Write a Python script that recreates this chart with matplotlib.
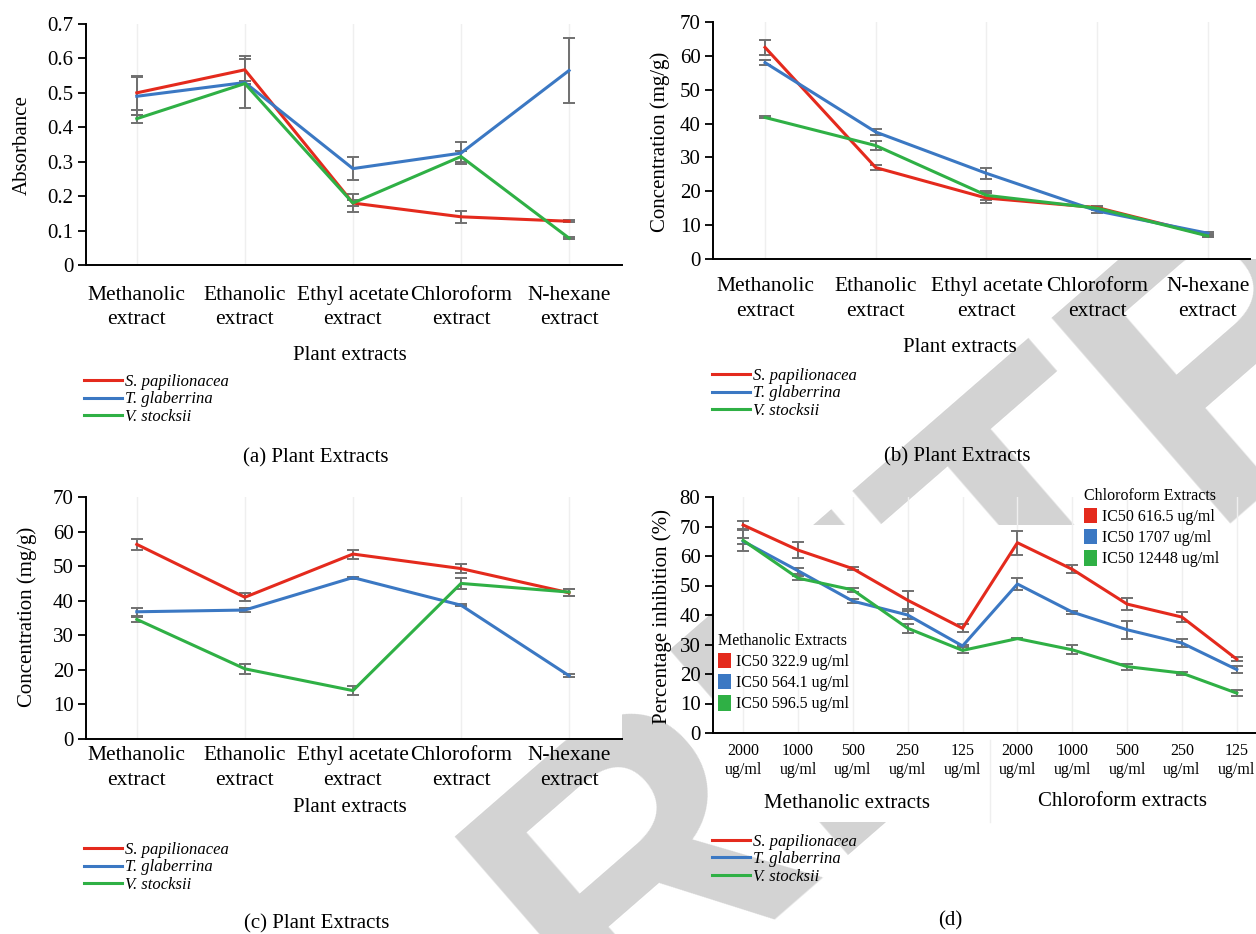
import numpy as np
import matplotlib.pyplot as plt
from matplotlib.lines import Line2D
from matplotlib.patches import Patch, Rectangle

plt.rcParams['font.family'] = ['Liberation Serif', 'DejaVu Serif']

W, H = 1256, 934

extracts = ["Methanolic\nextract", "Ethanolic\nextract", "Ethyl acetate\nextract",
            "Chloroform\nextract", "N-hexane\nextract"]
species = ["S. papilionacea", "T. glaberrina", "V. stocksii"]
colors = ["#e42a1d", "#3b78c3", "#2fb045"]

# (a) absorbance
abs_mean = [[0.500, 0.567, 0.180, 0.140, 0.127],
            [0.490, 0.530, 0.280, 0.325, 0.565],
            [0.425, 0.527, 0.180, 0.315, 0.078]]
abs_err = [[0.050, 0.040, 0.025, 0.018, 0.003],
           [0.055, 0.005, 0.033, 0.033, 0.095],
           [0.012, 0.070, 0.010, 0.015, 0.003]]

# (b) concentration
b_mean = [[62.5, 27.0, 18.0, 15.2, 7.0],
          [58.0, 37.5, 25.3, 14.2, 7.6],
          [41.8, 33.5, 18.8, 15.0, 6.8]]
b_err = [[2.2, 0.8, 1.5, 0.5, 0.5],
         [0.8, 0.9, 1.6, 0.5, 0.4],
         [0.3, 1.3, 1.3, 0.5, 0.4]]

# (c) concentration
c_mean = [[56.3, 41.0, 53.5, 49.3, 42.3],
          [36.8, 37.3, 46.7, 38.7, 18.3],
          [34.6, 20.3, 14.0, 45.0, 42.5]]
c_err = [[1.5, 1.2, 1.3, 1.3, 1.0],
         [1.2, 0.5, 0.3, 0.3, 0.4],
         [0.8, 1.4, 1.3, 1.5, 1.0]]

# (d) percentage inhibition
doses = ["2000\nug/ml", "1000\nug/ml", "500\nug/ml", "250\nug/ml", "125\nug/ml"] * 2
d_mean = [[70.5, 62.0, 55.7, 45.0, 35.5, 64.5, 55.5, 43.7, 39.3, 25.0],
          [65.0, 55.0, 44.7, 40.0, 29.5, 50.5, 41.0, 35.0, 30.5, 21.5],
          [65.3, 52.5, 48.5, 35.5, 28.0, 32.0, 28.2, 22.5, 20.3, 13.5]]
d_err = [[1.5, 2.7, 0.5, 3.0, 1.3, 4.0, 1.3, 2.0, 1.7, 0.7],
         [1.0, 1.0, 0.7, 1.3, 0.5, 2.0, 0.5, 3.0, 1.5, 1.2],
         [3.5, 0.7, 0.7, 1.5, 1.0, 0.3, 1.5, 1.0, 0.5, 1.0]]
meth_ic50 = ["IC50 322.9 ug/ml", "IC50 564.1 ug/ml", "IC50 596.5 ug/ml"]
chlo_ic50 = ["IC50 616.5 ug/ml", "IC50 1707 ug/ml", "IC50 12448 ug/ml"]


def rect(l, t, r, b):
    return [l / W, 1 - b / H, (r - l) / W, (b - t) / H]


def fx(x):
    return x / W


def fy(y):
    return 1 - y / H


def white_box(l, t, r, b):
    fig.patches.append(Rectangle((fx(l), fy(b)), (r - l) / W, (b - t) / H,
                                 transform=fig.transFigure, facecolor="white",
                                 edgecolor="none", zorder=-1))


def panel(ax, means, errs, labels, xlim, ylim, yticks, ytl, xfs=15.5, xls=1.4, xpad=15):
    n = len(labels)
    x = np.arange(n)
    for xi in x:
        ax.axvline(xi, color="#efefef", lw=1, zorder=0)
    for m, e, c in zip(means, errs, colors):
        ax.errorbar(x, m, yerr=e, color=c, lw=2.2, ecolor="#707070",
                    elinewidth=1.4, capsize=4, capthick=1.4, zorder=3)
    ax.set_xlim(*xlim)
    ax.set_ylim(*ylim)
    ax.set_xticks(x)
    ax.set_xticklabels(labels, fontsize=xfs, linespacing=xls)
    ax.set_yticks(yticks)
    ax.set_yticklabels(ytl, fontsize=15)
    ax.tick_params(axis="x", length=0, pad=xpad)
    ax.tick_params(axis="y", length=6, width=1.3, pad=3)
    for s in ["top", "right"]:
        ax.spines[s].set_visible(False)
    for s in ["left", "bottom"]:
        ax.spines[s].set_linewidth(1.4)


def species_legend(x, y):
    handles = [Line2D([], [], color=c, lw=2.2) for c in colors]
    fig.legend(handles, species, loc="upper left", bbox_to_anchor=(fx(x), fy(y)),
               frameon=False, prop={"style": "italic", "size": 12},
               handlelength=2.3, handletextpad=0.15, labelspacing=0.08,
               borderpad=0, borderaxespad=0)


fig = plt.figure(figsize=(W / 100, H / 100), dpi=100)

# watermark, kept behind the white plot areas
fig.text(fx(540), fy(965), "RETRACTED", fontsize=285, fontweight="bold",
         family="Liberation Sans", color="#d3d3d3", rotation=41,
         rotation_mode="anchor", ha="left", va="center", zorder=-2)

# (a)
ax_a = fig.add_axes(rect(86, 24, 622, 265))
panel(ax_a, abs_mean, abs_err, extracts, (-0.47, 4.49), (0, 0.7),
      np.arange(0, 0.71, 0.1), ["0"] + ["%.1f" % v for v in np.arange(0.1, 0.71, 0.1)])
fig.text(fx(22), fy(145), "Absorbance", rotation=90, fontsize=15, ha="center", va="center")
fig.text(fx(350), fy(355), "Plant extracts", fontsize=15, ha="center", va="center")
species_legend(84, 374)
fig.text(fx(316), fy(458), "(a) Plant Extracts", fontsize=15, ha="center", va="center")

# (b)
white_box(1240, 0, 1256, 259)
ax_b = fig.add_axes(rect(713, 22, 1250, 259))
panel(ax_b, b_mean, b_err, extracts, (-0.47, 4.38), (0, 70),
      np.arange(0, 71, 10), [str(v) for v in range(0, 71, 10)], xpad=13)
fig.text(fx(660), fy(142), "Concentration (mg/g)", rotation=90, fontsize=15, ha="center", va="center")
fig.text(fx(960), fy(348), "Plant extracts", fontsize=15, ha="center", va="center")
species_legend(712, 368)
fig.text(fx(957), fy(457), "(b) Plant Extracts", fontsize=15, ha="center", va="center")

# (c)
ax_c = fig.add_axes(rect(86, 497, 622, 739))
panel(ax_c, c_mean, c_err, extracts, (-0.47, 4.49), (0, 70),
      np.arange(0, 71, 10), [str(v) for v in range(0, 71, 10)], xpad=5)
fig.text(fx(27), fy(617), "Concentration (mg/g)", rotation=90, fontsize=15, ha="center", va="center")
fig.text(fx(350), fy(807), "Plant extracts", fontsize=15, ha="center", va="center")
species_legend(84, 842)
fig.text(fx(317), fy(924), "(c) Plant Extracts", fontsize=15, ha="center", va="center")

# (d)
white_box(713, 525, 1256, 822)
ax_d = fig.add_axes(rect(713, 497, 1256, 733))
ax_d.set_facecolor("none")
panel(ax_d, d_mean, d_err, doses, (-0.55, 9.35), (0, 80),
      np.arange(0, 81, 10), [str(v) for v in range(0, 81, 10)], xfs=11.5, xls=1.25, xpad=7)
fig.add_artist(Line2D([fx(990), fx(990)], [fy(740), fy(822)], color="#efefef", lw=1))
fig.text(fx(662), fy(617), "Percentage inhibition (%)", rotation=90, fontsize=15, ha="center", va="center")
fig.text(fx(847), fy(804), "Methanolic extracts", fontsize=15, ha="center", va="center")
fig.text(fx(1123), fy(802), "Chloroform extracts", fontsize=15, ha="center", va="center")

sq = [Patch(facecolor=c) for c in colors]
leg1 = ax_d.legend(sq, chlo_ic50, title="Chloroform Extracts", loc="upper left",
                   bbox_to_anchor=(fx(1084), fy(488)), bbox_transform=fig.transFigure,
                   frameon=False, fontsize=11.5, title_fontsize=11.5, alignment="left",
                   handlelength=0.8, handleheight=1.1, handletextpad=0.3,
                   labelspacing=0.25, borderpad=0, borderaxespad=0)
ax_d.add_artist(leg1)
ax_d.legend(sq, meth_ic50, title="Methanolic Extracts", loc="upper left",
            bbox_to_anchor=(fx(718), fy(633)), bbox_transform=fig.transFigure,
            frameon=False, fontsize=11.5, title_fontsize=11.5, alignment="left",
            handlelength=0.8, handleheight=1.1, handletextpad=0.3,
            labelspacing=0.25, borderpad=0, borderaxespad=0)
species_legend(712, 834)
fig.text(fx(950), fy(921), "(d)", fontsize=15, ha="center", va="center")

fig.savefig("out.png", dpi=100)
